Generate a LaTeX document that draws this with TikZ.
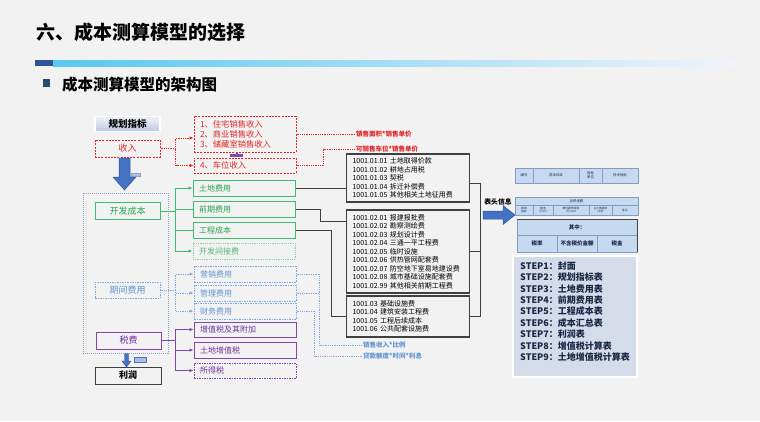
\documentclass[tikz,border=0pt]{standalone}
\usepackage{fontspec}
\setmainfont{Noto Sans CJK SC}
\usepackage{tikz}
\usetikzlibrary{arrows.meta}
\usetikzlibrary{shadows}
\definecolor{mbg}{RGB}{242,242,242}
\definecolor{mred}{RGB}{226,38,38}
\definecolor{mgreen}{RGB}{60,190,110}
\definecolor{mgreentxt}{RGB}{38,165,80}
\definecolor{mlgreen}{RGB}{130,215,160}
\definecolor{mblue}{RGB}{125,170,225}
\definecolor{mbluetxt}{RGB}{100,150,210}
\definecolor{mpurple}{RGB}{130,70,175}
\definecolor{mpurpletxt}{RGB}{112,48,160}
\definecolor{mdark}{RGB}{64,64,64}
\definecolor{marrow}{RGB}{68,114,196}
\definecolor{marrowdk}{RGB}{47,85,151}
\definecolor{mtable}{RGB}{197,217,241}
\definecolor{mtableln}{RGB}{130,155,195}
\definecolor{mstep}{RGB}{213,220,233}
\definecolor{mnavy}{RGB}{25,40,70}
\definecolor{mframe}{RGB}{140,160,195}
\definecolor{mbar}{RGB}{46,85,151}
\definecolor{mcyan}{RGB}{88,200,240}
\definecolor{mlav}{RGB}{170,190,228}
\definecolor{mfade}{RGB}{242,244,250}
\definecolor{msq}{RGB}{45,75,110}
\definecolor{mplan}{RGB}{190,201,224}
\tikzset{
  lbox/.style = {draw, line width = 1pt, minimum width = 65pt, minimum height = 17pt, inner sep = 0, font = \fontsize{9}{10}\selectfont},
  mbox/.style = {draw, line width = 1pt, minimum width = 102pt, minimum height = 16pt, text width = 90pt, inner xsep = 6pt, inner ysep = 0, align = left, font = \fontsize{8}{10}\selectfont},
  cbox/.style = {draw = mdark, line width = 1.1pt, minimum width = 123pt, text width = 111pt, inner xsep = 6pt, inner ysep = 0, align = left, font = \fontsize{7}{8.5}\selectfont},
  reddash/.style = {draw = mred, text = mred, dash pattern = on 2pt off 1.2pt},
  bluedash/.style = {draw = mblue, text = mbluetxt, dash pattern = on 1.5pt off 1pt},
  greenbox/.style = {draw = mgreen, text = mgreentxt},
  purplebox/.style = {draw = mpurple, text = mpurpletxt},
  redline/.style = {mred, line width = .7pt, dash pattern = on 1pt off .8pt},
  greenline/.style = {mgreen, line width = .9pt},
  blueline/.style = {mblue, line width = .8pt, dash pattern = on 1pt off .8pt},
  purpleline/.style = {mpurple, line width = .8pt},
  darkline/.style = {mdark, line width = .9pt},
  arr/.style = {-{Latex[length = 4pt, width = 3.5pt]}},
  redlbl/.style = {text = mred, inner sep = 1pt, anchor = west, font = \bfseries\fontsize{6.5}{7}\selectfont},
  bluelbl/.style = {text = mbluetxt, inner sep = 1pt, anchor = west, font = \bfseries\fontsize{6.5}{7}\selectfont},
  tcell/.style = {draw = mtableln, line width = .4pt},
  ttext/.style = {inner sep = 0, align = center, text = mnavy, font = \fontsize{3.4}{3.8}\selectfont},
  steptext/.style = {anchor = west, inner sep = 0, text = mnavy, font = \bfseries\fontsize{9}{10}\selectfont}
}

\begin{document}
\begin{tikzpicture}[x = 1pt, y = -1pt]
  \fill[mbg] (0, 0) rectangle (760, 421);

  % heading
  \node[anchor = west, inner sep = 0, font = \bfseries\fontsize{19}{20}\selectfont] (title) at (36, 32) {六、成本测算模型的选择};
  \fill[mbar] (35, 60) rectangle (53, 66);
  \shade[left color = mcyan, middle color = mlav, right color = mfade] (53, 60) rectangle (735, 66);
  \node[fill = msq, inner sep = 0, minimum size = 7.5pt] (bullet) at (46.5, 83) {};
  \node[anchor = west, inner sep = 0, font = \bfseries\fontsize{15.5}{16}\selectfont] (subtitle) at (62, 85) {成本测算模型的架构图};

  % left column
  \draw[mframe, line width = .8pt, dash pattern = on 1pt off 1pt] (83, 193) rectangle (168, 353);
  \node[lbox, draw = white, line width = 1.6pt, top color = white!75!mplan, bottom color = mplan, drop shadow = {opacity = .25, shadow xshift = .8pt, shadow yshift = -.8pt}, font = \bfseries\fontsize{9.5}{10}\selectfont, minimum height = 15pt] (plan) at (127.5, 124) {规划指标};
  \node[lbox, reddash] (income) at (127.5, 148.5) {收入};
  \node[lbox, greenbox] (devcost) at (127.5, 211) {开发成本};
  \node[lbox, bluedash, minimum height = 16pt] (period) at (127.5, 290) {期间费用};
  \node[lbox, purplebox] (tax) at (128.5, 340.5) {税费};
  \node[lbox, draw = mdark, minimum width = 66pt, font = \bfseries\fontsize{9}{10}\selectfont] (profit) at (128, 375.5) {利润};

  \filldraw[fill = marrow, draw = marrowdk, line width = .5pt] (119, 158) -- (130, 158) -- (130, 177) -- (136, 177) -- (124.5, 190) -- (113, 177) -- (119, 177) -- cycle;
  \filldraw[fill = mlav, draw = mframe, line width = .5pt] (131, 173) rectangle (140, 176.5);
  \filldraw[fill = marrow, draw = marrowdk, line width = .4pt] (124.5, 353.5) -- (128.5, 353.5) -- (128.5, 361) -- (131, 361) -- (126.5, 367) -- (122, 361) -- (124.5, 361) -- cycle;
  \filldraw[fill = mlav, draw = marrow, line width = .6pt] (134, 357) rectangle (146, 362);

  % middle column
  \node[mbox, reddash, minimum height = 36pt, font = \fontsize{8.3}{10}\selectfont] (sales) at (245, 134) {1、住宅销售收入\\2、商业销售收入\\3、储藏室销售收入};
  \node[mbox, reddash, minimum height = 15pt, font = \fontsize{8.3}{10}\selectfont] (parking) at (245, 165.5) {4、车位收入};
  \fill[mpurple] (230, 153.5) rectangle (243, 156.5);
  \fill[mpurple] (235.5, 151.5) rectangle (237.5, 156.5);

  \node[mbox, greenbox] (land) at (244, 188) {土地费用};
  \node[mbox, greenbox] (early) at (244, 209) {前期费用};
  \node[mbox, greenbox] (eng) at (244, 230) {工程成本};
  \node[mbox, draw = mlgreen, text = mgreentxt!80, dash pattern = on 1pt off .8pt] (indirect) at (244, 251) {开发间接费};
  \node[mbox, bluedash] (market) at (245, 274) {营销费用};
  \node[mbox, bluedash] (manage) at (245, 293) {管理费用};
  \node[mbox, bluedash] (finance) at (245, 311) {财务费用};
  \node[mbox, purplebox, minimum height = 15pt] (vat) at (245, 329.5) {增值税及其附加};
  \node[mbox, purplebox] (lvat) at (245, 350) {土地增值税};
  \node[mbox, purplebox, minimum height = 15pt, dash pattern = on 1.5pt off 1pt] (inctax) at (245, 370.5) {所得税};

  % code boxes
  \node[cbox, minimum height = 48pt] (code1) at (408, 178) {1001.01.01 土地取得价款\\1001.01.02 耕地占用税\\1001.01.03 契税\\1001.01.04 拆迁补偿费\\1001.01.05 其他相关土地征用费};
  \node[cbox, minimum height = 83pt] (code2) at (408, 251.5) {1001.02.01 报建报批费\\1001.02.02 勘察测绘费\\1001.02.03 规划设计费\\1001.02.04 三通一平工程费\\1001.02.05 临时设施\\1001.02.06 供热管网配套费\\1001.02.07 防空地下室易地建设费\\1001.02.08 城市基础设施配套费\\1001.02.99 其他相关前期工程费};
  \node[cbox, minimum height = 41pt] (code3) at (408, 316.5) {1001.03 基础设施费\\1001.04 建筑安装工程费\\1001.05 工程后续成本\\1001.06 公共配套设施费};

  % labels
  \node[redlbl] (lbl1) at (355, 134) {销售面积*销售单价};
  \node[redlbl] (lbl2) at (355, 149) {可销售车位*销售单价};
  \node[bluelbl] (lbl3) at (362, 345) {销售收入*比例};
  \node[bluelbl] (lbl4) at (362, 356) {贷款额度*时间*利息};

  % connectors
  \draw[redline] (income.east) -- ++(15, 0) coordinate (r0);
  \draw[redline, arr] (r0) |- ([yshift = -4pt]sales.west);
  \draw[redline, arr] (r0) |- (parking.west);
  \draw[redline] (sales.east) -- (lbl1.west);
  \draw[redline] (parking.east) -- ++(27, 0) |- (lbl2.west);

  \draw[greenline] (devcost.east) -- ++(15, 0) coordinate (g0);
  \draw[greenline, arr] (g0) |- (land.west);
  \draw[greenline] (g0) |- (early.west);
  \draw[greenline] (g0) |- (eng.west);
  \draw[greenline, arr] (g0) |- (indirect.west);

  \draw[blueline] (period.east) -- ++(15, 0) coordinate (b0);
  \draw[blueline, arr] (b0) |- (market.west);
  \draw[blueline, arr] (b0) |- (manage.west);
  \draw[blueline, arr] (b0) |- (finance.west);

  \draw[purpleline] (tax.east) -- ++(14, 0) coordinate (p0);
  \draw[purpleline, arr] (p0) |- (vat.west);
  \draw[purpleline, arr] (p0) |- (lvat.west);
  \draw[purpleline, arr] (p0) |- (inctax.west);

  \draw[darkline] (land.east) -- (land.east -| code1.west);
  \draw[darkline] (early.east) -- ++(25, 0) |- ([yshift = -12pt]code2.north west);
  \draw[darkline] (eng.east) -- ++(36, 0) |- (code3.west);

  \draw[blueline] (market.east) -- ++(23, 0) coordinate (m0) |- (lbl3.west);
  \draw[blueline] (manage.east) -- (manage.east -| m0);
  \draw[blueline] (finance.east) -- ++(18, 0) |- (lbl4.west);

  \draw[darkline] ([yshift = -5pt]code1.east) -- ++(10, 0) coordinate (k1) -- (k1 |- code3.east) -- (code3.east);
  \draw[darkline] (code2.east) -- (code2.east -| k1);

  % header arrow
  \filldraw[fill = marrow, draw = marrowdk, line width = .5pt] (483, 211) -- (503, 211) -- (503, 205.5) -- (515, 215) -- (503, 224.5) -- (503, 219) -- (483, 219) -- cycle;
  \node[inner sep = 0, font = \bfseries\fontsize{6.8}{7}\selectfont] (hdr) at (498, 202) {表头信息};

  % tables
  \fill[mtable] (515, 168) rectangle (638, 183);
  \draw[tcell] (515, 168) rectangle (638, 183);
  \foreach \x in {533, 579, 602} {
    \draw[tcell] (\x, 168) -- (\x, 183);
  }
  \node[ttext] (ta1) at (524, 175.5) {编号};
  \node[ttext] (ta2) at (556, 175.5) {成本科目};
  \node[ttext] (ta3) at (590.5, 175.5) {指标\\单位};
  \node[ttext] (ta4) at (620, 175.5) {技术指标};

  \fill[mtable] (515, 197) rectangle (638, 215);
  \draw[tcell] (515, 197) rectangle (638, 215);
  \draw[tcell] (515, 205) -- (638, 205);
  \foreach \x in {533, 553, 589, 612} {
    \draw[tcell] (\x, 205) -- (\x, 215);
  }
  \node[ttext] (tb0) at (576.5, 201) {含税金额};
  \node[ttext, font = \fontsize{2.8}{3.2}\selectfont] (tb1) at (524, 210) {成本\\指标};
  \node[ttext, font = \fontsize{2.8}{3.2}\selectfont] (tb2) at (543, 210) {成本\\（万元）};
  \node[ttext, font = \fontsize{2.8}{3.2}\selectfont] (tb3) at (571, 210) {单位建筑成本\\（元/m2）};
  \node[ttext, font = \fontsize{2.8}{3.2}\selectfont] (tb4) at (600.5, 210) {占土地成本\\比例};
  \node[ttext, font = \fontsize{2.8}{3.2}\selectfont] (tb5) at (625, 210) {备注};

  \fill[mtable] (517, 219) rectangle (637, 252);
  \draw[tcell] (517, 219) rectangle (637, 252);
  \draw[tcell] (517, 235) -- (637, 235);
  \foreach \x in {557, 597} {
    \draw[tcell] (\x, 235) -- (\x, 252);
  }
  \draw[mdark, line width = .9pt] (517, 219) -- (637, 219) -- (637, 252);
  \node[ttext, font = \bfseries\fontsize{5.5}{6}\selectfont] (tc0) at (577, 227) {其中：};
  \node[ttext, font = \bfseries\fontsize{5.5}{6}\selectfont] (tc1) at (537, 243.5) {税率};
  \node[ttext, font = \bfseries\fontsize{5.5}{6}\selectfont] (tc2) at (577, 243.5) {不含税价金额};
  \node[ttext, font = \bfseries\fontsize{5.5}{6}\selectfont] (tc3) at (617, 243.5) {税金};

  % steps
  \node[fill = mstep, draw = white, line width = 2pt, minimum width = 124pt, minimum height = 121pt, drop shadow = {opacity = .3, shadow xshift = 1pt, shadow yshift = -1pt}] (steps) at (575, 316.5) {};
  \foreach \t [count = \i] in {封面, 规划指标表, 土地费用表, 前期费用表, 工程成本表, 成本汇总表, 利润表, 增值税计算表, 土地增值税计算表} {
    \node[steptext] (s\i) at (520, 254.6 + 11.375 * \i) {STEP\i：\t};
  }
\end{tikzpicture}
\end{document}
